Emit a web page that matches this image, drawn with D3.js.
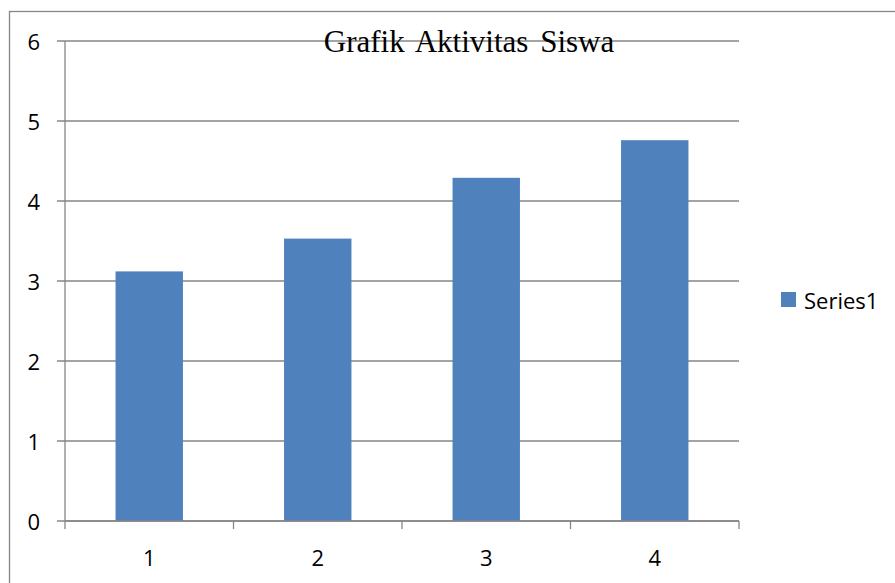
<!DOCTYPE html>
<html>
<head>
<meta charset="utf-8">
<script src="https://cdn.jsdelivr.net/npm/d3@7"></script>
<style>
  body { margin: 0; background: #fff; }
  svg { display: block; }
</style>
</head>
<body>
<div id="chart"></div>
<script>
// data
var categories = ["1", "2", "3", "4"];
var values = [3.12, 3.53, 4.29, 4.76];
var yTicks = [0, 1, 2, 3, 4, 5, 6];
var seriesName = "Series1";
var titleText = "Grafik Aktivitas Siswa";

var W = 895, H = 583;
var plot = {left: 65, right: 739, top: 41, bottom: 521};
var gridColor = "#868686";
var barColor = "#4F81BD";
var labelFont = "'Open Sans', sans-serif";

var svg = d3.select("#chart")
  .append("svg")
    .attr("width", W)
    .attr("height", H);

// outer chart border (only left and top edges show inside the frame)
svg.append("rect")
  .attr("x", 9.5)
  .attr("y", 11.5)
  .attr("width", W)
  .attr("height", H)
  .attr("fill", "none")
  .attr("stroke", gridColor)
  .attr("stroke-width", 1.3);

var x = d3.scaleBand()
  .domain(categories)
  .range([plot.left, plot.right])
  .padding(0);

var y = d3.scaleLinear()
  .domain([0, 6])
  .range([plot.bottom, plot.top]);

// horizontal gridlines + y ticks
svg.append("g")
  .selectAll("line")
  .data(yTicks)
  .enter()
  .append("line")
    .attr("x1", plot.left - 8)
    .attr("x2", plot.right)
    .attr("y1", function(d) { return y(d); })
    .attr("y2", function(d) { return y(d); })
    .attr("stroke", gridColor)
    .attr("stroke-width", 1.3);

// y labels
svg.append("g")
  .selectAll("text")
  .data(yTicks)
  .enter()
  .append("text")
    .attr("x", 40)
    .attr("y", function(d) { return y(d); })
    .attr("text-anchor", "end")
    .attr("dominant-baseline", "central")
    .attr("font-family", labelFont)
    .attr("font-size", 22)
    .attr("fill", "#000")
    .text(function(d) { return d; });

// bars
var barW = x.bandwidth() * 0.4;
svg.append("g")
  .selectAll("rect")
  .data(values)
  .enter()
  .append("rect")
    .attr("x", function(d, i) { return x(categories[i]) + (x.bandwidth() - barW) / 2; })
    .attr("y", function(d) { return y(d); })
    .attr("width", barW)
    .attr("height", function(d) { return y(0) - y(d); })
    .attr("fill", barColor);

// y axis line
svg.append("line")
  .attr("x1", plot.left).attr("x2", plot.left)
  .attr("y1", plot.top).attr("y2", plot.bottom)
  .attr("stroke", gridColor)
  .attr("stroke-width", 1.3);

// x axis line and ticks at category edges
svg.append("line")
  .attr("x1", plot.left).attr("x2", plot.right)
  .attr("y1", plot.bottom).attr("y2", plot.bottom)
  .attr("stroke", gridColor)
  .attr("stroke-width", 1.3);

var edges = categories.map(function(c) { return x(c); }).concat([x.range()[1]]);
svg.append("g")
  .selectAll("line")
  .data(edges)
  .enter()
  .append("line")
    .attr("x1", function(d) { return d; })
    .attr("x2", function(d) { return d; })
    .attr("y1", plot.bottom)
    .attr("y2", plot.bottom + 8)
    .attr("stroke", gridColor)
    .attr("stroke-width", 1.3);

// x labels
svg.append("g")
  .selectAll("text")
  .data(categories)
  .enter()
  .append("text")
    .attr("x", function(d) { return x(d) + x.bandwidth() / 2; })
    .attr("y", 557)
    .attr("text-anchor", "middle")
    .attr("dominant-baseline", "central")
    .attr("font-family", labelFont)
    .attr("font-size", 22)
    .attr("fill", "#000")
    .text(function(d) { return d; });

// title
svg.append("text")
  .attr("x", 469)
  .attr("y", 52)
  .attr("text-anchor", "middle")
  .attr("font-family", "'Liberation Serif', 'Times New Roman', serif")
  .attr("font-size", 31)
  .attr("word-spacing", 4)
  .attr("fill", "#000")
  .text(titleText);

// legend
var legend = svg.append("g").attr("transform", "translate(781,292)");
legend.append("rect")
  .attr("width", 15)
  .attr("height", 15)
  .attr("fill", barColor);
legend.append("text")
  .attr("x", 23)
  .attr("y", 7.5)
  .attr("dominant-baseline", "central")
  .attr("font-family", labelFont)
  .attr("font-size", 22)
  .attr("fill", "#000")
  .text(seriesName);
</script>
</body>
</html>
